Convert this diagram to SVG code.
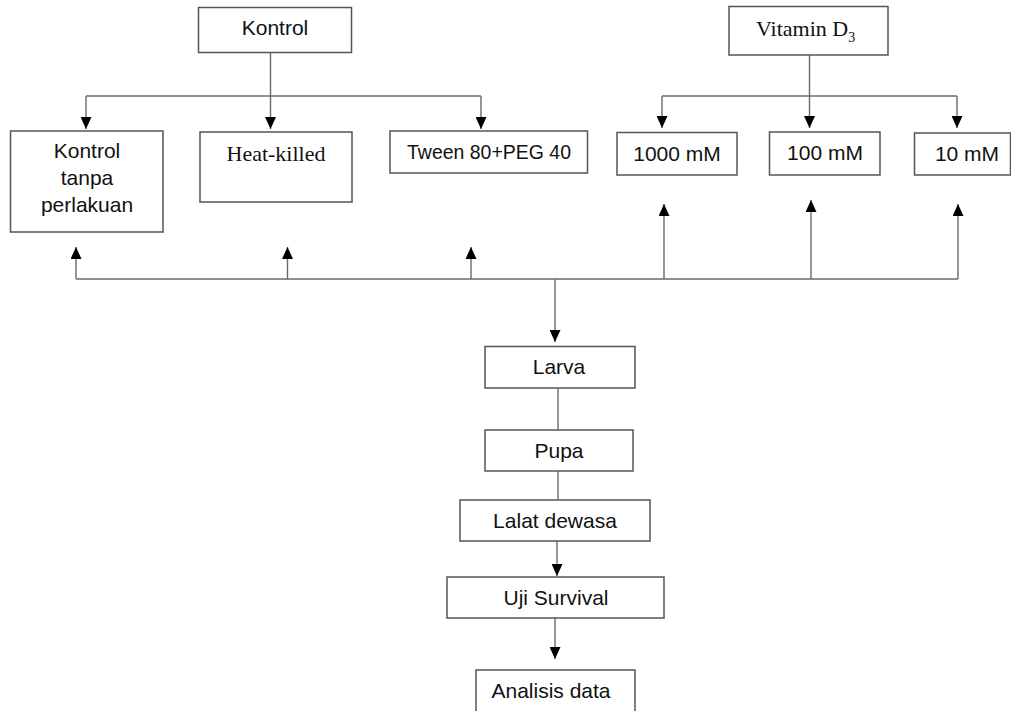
<svg xmlns="http://www.w3.org/2000/svg" width="1011" height="711" viewBox="0 0 1011 711">
<style>
.box{fill:#fff;stroke:#555;stroke-width:1.5}
.ln{fill:none;stroke:#6a6a6a;stroke-width:1.4}
.s{font-family:"Liberation Sans",Arial,sans-serif;font-size:21px;fill:#111;text-anchor:middle}
.r{font-family:"Liberation Serif","Times New Roman",serif;font-size:22px;fill:#111}
</style>
<defs>
<marker id="ah" viewBox="0 0 12 11" refX="12" refY="5.5" markerWidth="12" markerHeight="11" markerUnits="userSpaceOnUse" orient="auto">
<path d="M0,0 L12,5.5 L0,11 z" fill="#000"/>
</marker>
</defs>
<rect width="1011" height="711" fill="#fff"/>
<g id="connectors">
<line class="ln" x1="270.5" y1="52" x2="270.5" y2="96"/>
<line class="ln" x1="86" y1="96" x2="481" y2="96"/>
<line class="ln" x1="86" y1="96" x2="86" y2="129" marker-end="url(#ah)"/>
<line class="ln" x1="270.5" y1="96" x2="270.5" y2="129" marker-end="url(#ah)"/>
<line class="ln" x1="481" y1="96" x2="481" y2="129" marker-end="url(#ah)"/>
<line class="ln" x1="809.5" y1="55" x2="809.5" y2="96"/>
<line class="ln" x1="662" y1="96" x2="957" y2="96"/>
<line class="ln" x1="662" y1="96" x2="662" y2="128" marker-end="url(#ah)"/>
<line class="ln" x1="809.5" y1="96" x2="809.5" y2="128" marker-end="url(#ah)"/>
<line class="ln" x1="957" y1="96" x2="957" y2="128" marker-end="url(#ah)"/>
<line class="ln" x1="76" y1="279" x2="958" y2="279"/>
<line class="ln" x1="76" y1="279" x2="76" y2="247" marker-end="url(#ah)"/>
<line class="ln" x1="287.5" y1="279" x2="287.5" y2="247" marker-end="url(#ah)"/>
<line class="ln" x1="471" y1="279" x2="471" y2="247" marker-end="url(#ah)"/>
<line class="ln" x1="664" y1="279" x2="664" y2="204" marker-end="url(#ah)"/>
<line class="ln" x1="811" y1="279" x2="811" y2="200" marker-end="url(#ah)"/>
<line class="ln" x1="958" y1="279" x2="958" y2="204" marker-end="url(#ah)"/>
<line class="ln" x1="555" y1="279" x2="555" y2="342" marker-end="url(#ah)"/>
<line class="ln" x1="558" y1="388" x2="558" y2="430"/>
<line class="ln" x1="558" y1="471" x2="558" y2="500"/>
<line class="ln" x1="557" y1="541" x2="557" y2="576" marker-end="url(#ah)"/>
<line class="ln" x1="555" y1="618" x2="555" y2="659" marker-end="url(#ah)"/>
</g>
<g id="kontrol"><rect class="box" x="198.5" y="7.5" width="153" height="45"/><text class="s" x="275" y="35">Kontrol</text></g>
<g id="vitamin"><rect class="box" x="729" y="6.5" width="159" height="48.5"/><text class="r" x="756" y="36">Vitamin D<tspan font-size="14" dy="6">3</tspan></text></g>
<g id="kontrol-tanpa"><rect class="box" x="10.5" y="131" width="152.5" height="101"/><text class="s" x="87" y="158">Kontrol</text><text class="s" x="87" y="185">tanpa</text><text class="s" x="87" y="212">perlakuan</text></g>
<g id="heat-killed"><rect class="box" x="200" y="132" width="152" height="70"/><text class="r" x="276" y="161" text-anchor="middle" font-size="23">Heat-killed</text></g>
<g id="tween"><rect class="box" x="390" y="131" width="197.5" height="42"/><text class="s" x="489" y="159" font-size="20" textLength="164" lengthAdjust="spacingAndGlyphs">Tween 80+PEG 40</text></g>
<g id="d1000"><rect class="box" x="617" y="132.5" width="120" height="42.5"/><text class="s" x="677" y="161">1000 mM</text></g>
<g id="d100"><rect class="box" x="769.5" y="132" width="110.5" height="43"/><text class="s" x="825" y="160">100 mM</text></g>
<g id="d10"><rect class="box" x="914.5" y="133" width="96" height="42"/><text class="s" x="967" y="161">10 mM</text></g>
<g id="larva"><rect class="box" x="485" y="346.5" width="150" height="41.5"/><text class="s" x="559" y="374">Larva</text></g>
<g id="pupa"><rect class="box" x="485" y="430" width="148" height="41"/><text class="s" x="559" y="458">Pupa</text></g>
<g id="lalat"><rect class="box" x="460" y="500" width="190" height="41"/><text class="s" x="555" y="528">Lalat dewasa</text></g>
<g id="uji"><rect class="box" x="447" y="577" width="217" height="41"/><text class="s" x="556" y="605">Uji Survival</text></g>
<g id="analisis"><rect class="box" x="476" y="670" width="159" height="50"/><text class="s" x="551" y="698">Analisis data</text></g>
</svg>
